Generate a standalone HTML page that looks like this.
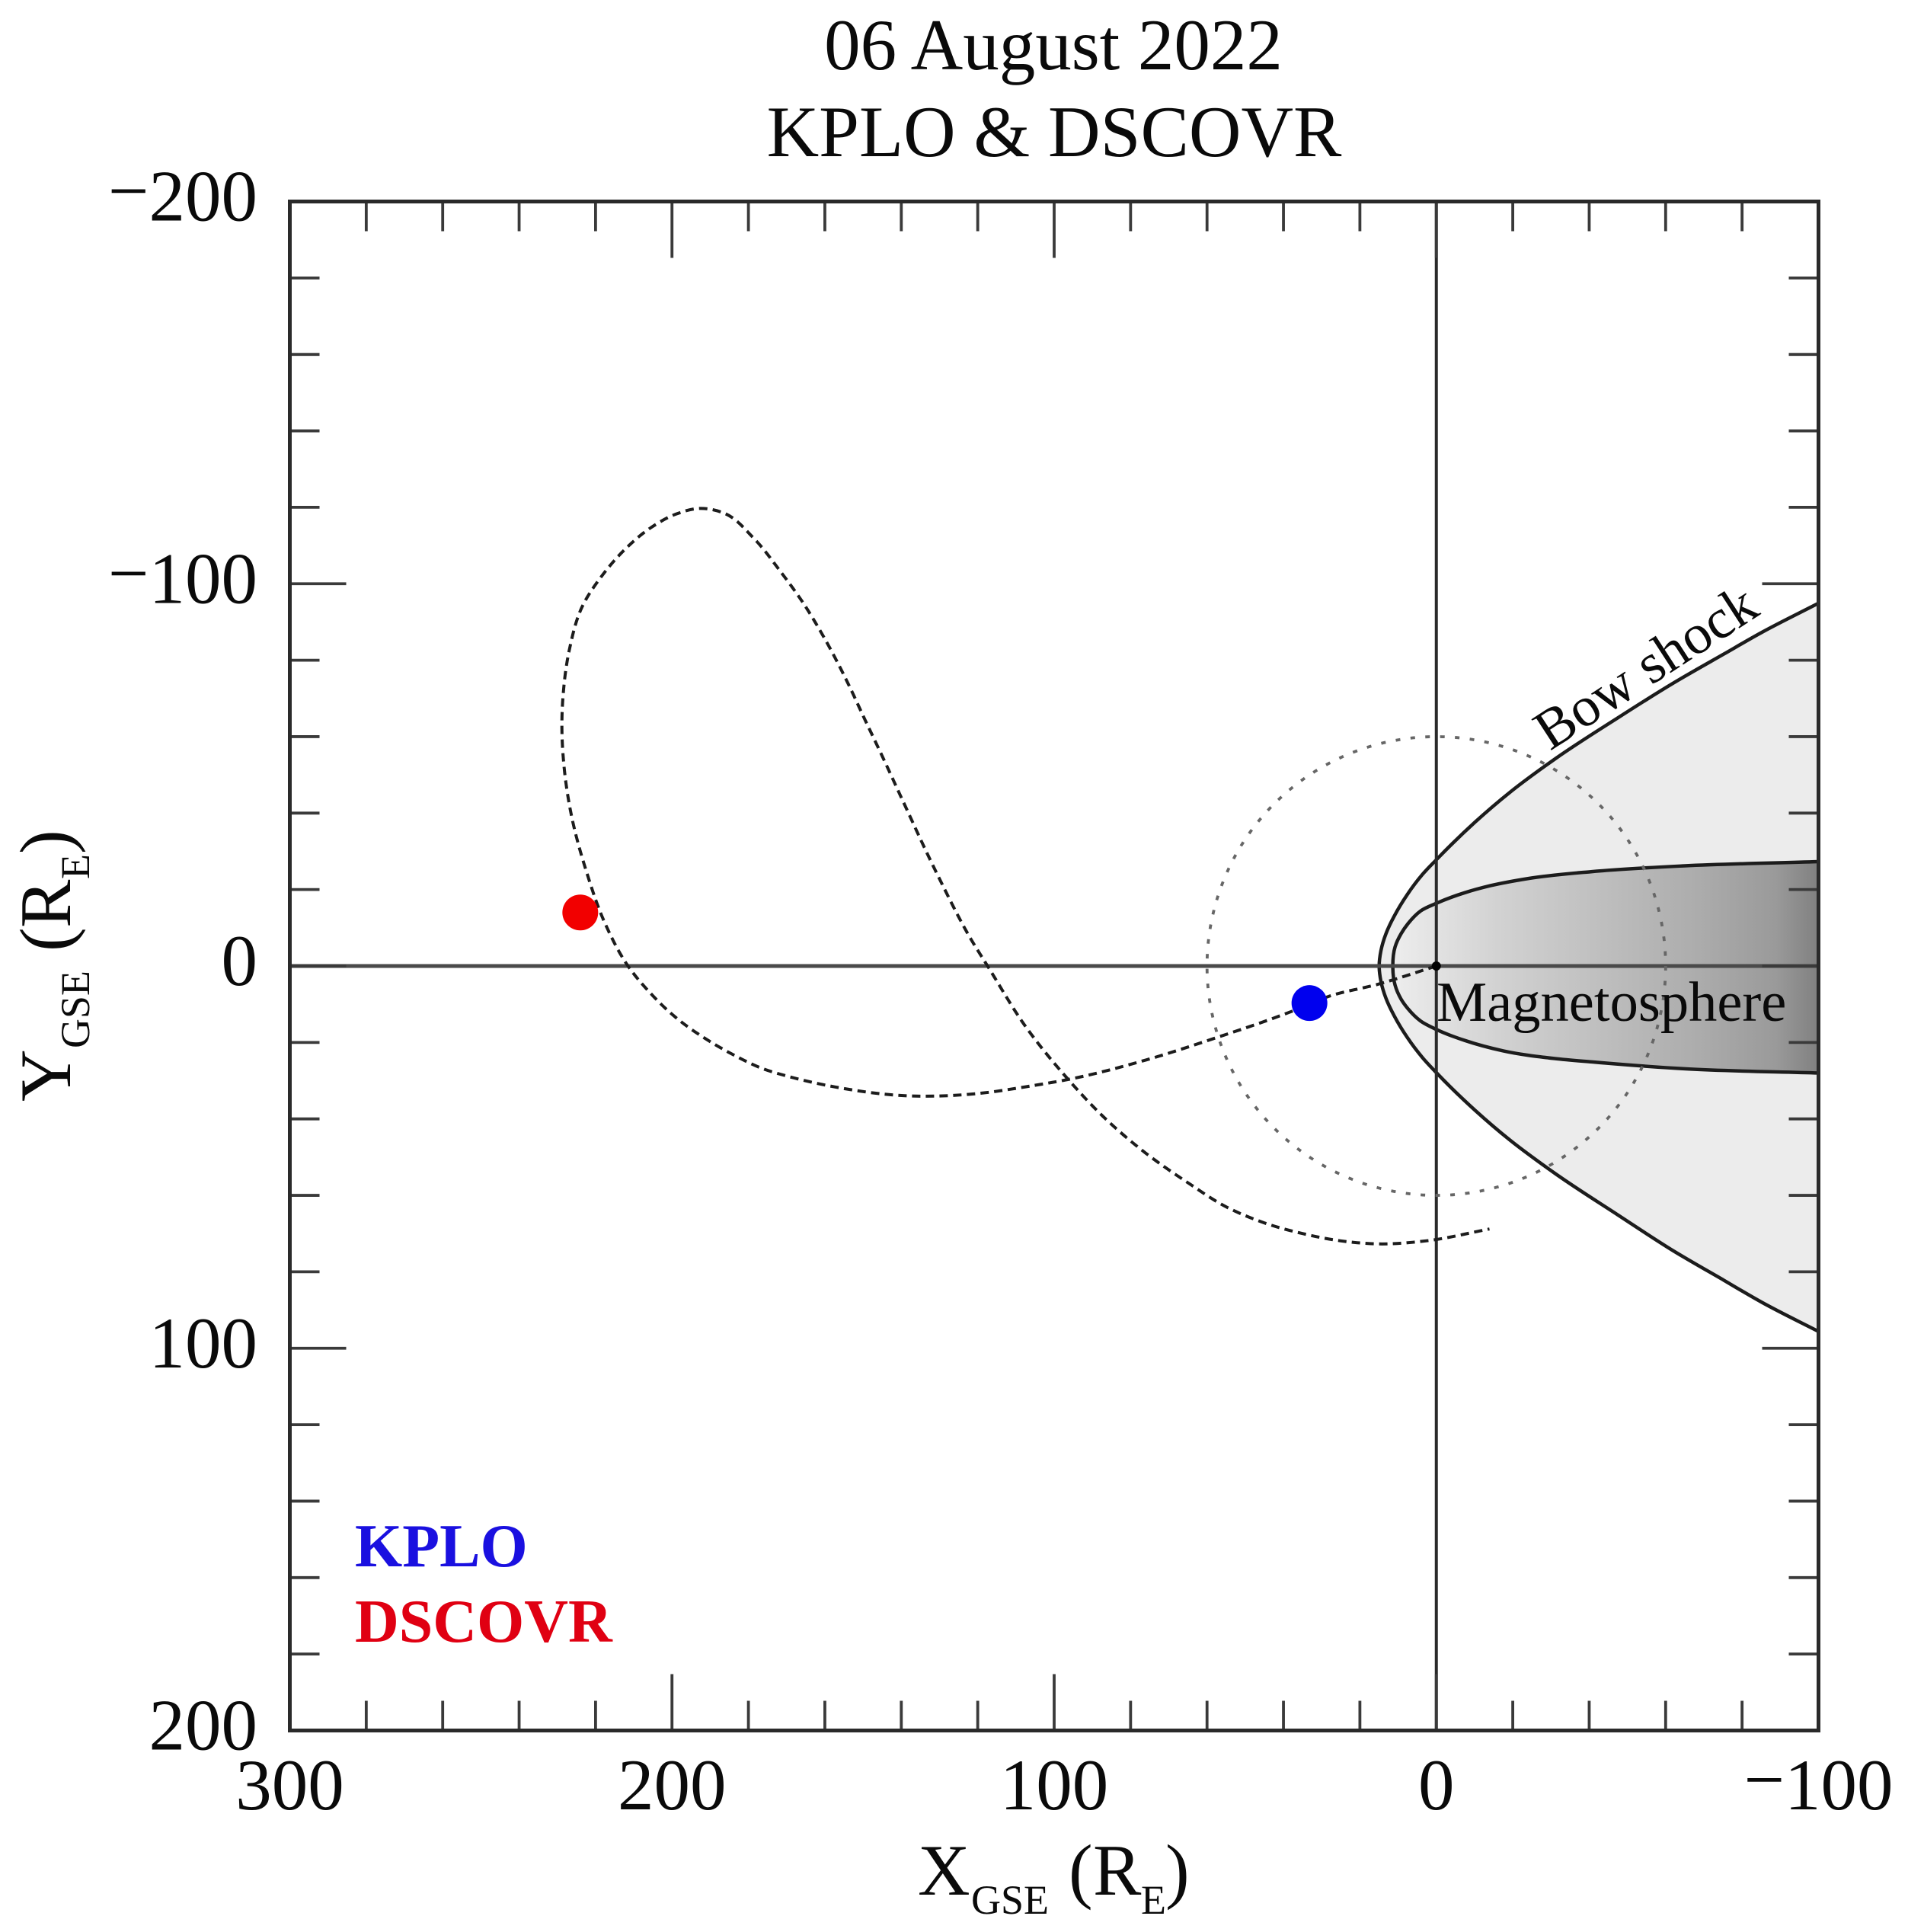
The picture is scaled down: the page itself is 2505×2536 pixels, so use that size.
<!DOCTYPE html>
<html lang="en">
<head>
<meta charset="utf-8">
<title>06 August 2022 KPLO &amp; DSCOVR</title>
<style>
html,body{margin:0;padding:0;background:#fff;}
svg{display:block;font-family:"Liberation Serif",serif;fill:#0a0a0a;}
</style>
</head>
<body>
<svg id="chart" xmlns="http://www.w3.org/2000/svg" width="2505" height="2536" viewBox="0 0 2505 2536">
  <defs>
    <linearGradient id="magnetoGradient" gradientUnits="userSpaceOnUse" x1="1826" y1="0" x2="2387" y2="0">
      <stop offset="0" stop-color="#eeeeee"/>
      <stop offset="0.107" stop-color="#e2e2e2"/>
      <stop offset="0.25" stop-color="#d2d2d2"/>
      <stop offset="0.45" stop-color="#c2c2c2"/>
      <stop offset="0.72" stop-color="#acacac"/>
      <stop offset="0.9" stop-color="#9a9a9a"/>
      <stop offset="1" stop-color="#808080"/>
    </linearGradient>
  </defs>
  <g id="regions"></g>
  <g id="guides"></g>
  <g id="ticks"></g>
  <g id="marks"></g>
  <rect x="380.5" y="264.5" width="2007" height="2007" fill="none" stroke="#2a2a2a" stroke-width="5"/>
  <g id="labels" font-size="95"></g>

  <text x="1383" y="91" font-size="95" text-anchor="middle">06 August 2022</text>
  <text x="1384" y="205" font-size="95" text-anchor="middle">KPLO &amp; DSCOVR</text>

  <text font-size="95"><tspan x="1205" y="2487">X</tspan><tspan x="1275" y="2512" font-size="54">GSE</tspan><tspan x="1403" y="2487">(</tspan><tspan x="1435" y="2487">R</tspan><tspan x="1498" y="2512" font-size="54">E</tspan><tspan x="1530" y="2487">)</tspan></text>
  <text font-size="95" transform="translate(92,0) rotate(-90)"><tspan x="-1446" y="0">Y</tspan><tspan x="-1376" y="25" font-size="54">GSE</tspan><tspan x="-1249" y="0">(</tspan><tspan x="-1218" y="0">R</tspan><tspan x="-1154" y="25" font-size="54">E</tspan><tspan x="-1121" y="0">)</tspan></text>

  <text font-size="74" transform="translate(2035,986) rotate(-33)">Bow shock</text>
  <text x="1886" y="1340" font-size="74.5">Magnetosphere</text>

  <text x="466" y="2056" font-size="80" font-weight="bold" style="fill:#1a10e0">KPLO</text>
  <text x="466" y="2155" font-size="80" font-weight="bold" style="fill:#e00012">DSCOVR</text>
</svg>

<script>
// Axis domains
var xDomain = [300, -100];
var yDomain = [-200, 200];

// Ticks
var xMajorTicks = [300, 200, 100, 0, -100];
var xTickLabels = ['300', '200', '100', '0', '−100'];
var xMinorTicks = [280, 260, 240, 220, 180, 160, 140, 120, 80, 60, 40, 20, -20, -40, -60, -80];
var yMajorTicks = [-200, -100, 0, 100, 200];
var yTickLabels = ['−200', '−100', '0', '100', '200'];
var yMinorTicks = [-180, -160, -140, -120, -80, -60, -40, -20, 20, 40, 60, 80, 120, 140, 160, 180];

// Bow shock boundary (RE)
var bowX = [-100, -85.2, -75.2, -62, -47.3, -31.4, -19.2, -10.2, 0, 3.6, 7.6, 11, 13.2, 14.5, 14.95, 14.5, 13.2, 11, 7.6, 3.6, 0, -10.2, -19.2, -31.4, -47.3, -62, -75.2, -85.2, -100];
var bowY = [-94.9, -87.3, -81.6, -74, -64.8, -54.4, -45.4, -37.7, -27.8, -24, -18.7, -13.1, -8.4, -4, 0, 4, 8.4, 13.1, 18.7, 24, 27.9, 37.8, 45.5, 54.5, 65, 74.5, 82.2, 88, 95.6];

// Magnetopause boundary (RE)
var magnetoX = [-100, -65, -40.7, -24.1, -14.1, -7.5, 0, 4.1, 7.4, 9.2, 10.8, 11.4, 10.8, 9.2, 7.4, 4.1, 0, -7.5, -17.5, -30.8, -40.7, -65.3, -100];
var magnetoY = [-27.3, -26.2, -24.7, -22.9, -21, -19.2, -16.4, -14.4, -11.1, -8.5, -5, 0, 5, 8.7, 11.2, 14.4, 16.6, 19.5, 22.2, 24.2, 25.1, 26.9, 28];

// Spacecraft trajectory (RE)
var trajectoryX = [0, 15, 28.3, 37.4, 58.3, 76, 95.9, 107.5, 116.75, 139.5, 157.3, 168, 176.9, 184, 191.1, 199.1, 205, 211.5, 217.8, 222.3, 226.3, 228.1, 228.8, 228.4, 226.8, 223.5, 218, 212, 205.5, 199, 192.9, 186, 178.7, 171.6, 165.5, 159.8, 154.7, 149.3, 144, 139.5, 130.6, 121.7, 117.3, 107.5, 96.4, 86.2, 76.1, 65, 55, 45, 35, 25, 15, 1.85, -13.9];
var trajectoryY = [0, 4.7, 8, 11.7, 19, 24.6, 29.6, 31.6, 33, 33.9, 31.65, 29.3, 26.6, 23.2, 19.1, 13.4, 7.8, 0, -11.8, -24.4, -39.3, -50.7, -62.2, -72, -83, -94, -102.5, -109.3, -114.7, -118.2, -119.7, -118.3, -112, -103.2, -94.7, -85.2, -75.5, -64, -52.8, -43, -24, -6.9, 0.2, 15.8, 29.6, 40.3, 48.9, 56.7, 63, 67.2, 70, 71.9, 72.7, 71.8, 68.8];

// Moon orbit circle (RE)
var moonOrbitRadius = [60];

// Spacecraft positions (RE)
var kploPosition = [33.2, 9.7];
var dscovrPosition = [224, -14];
var earthPosition = [0, 0];

var NS = 'http://www.w3.org/2000/svg';
var plotLeft = 380.5, plotRight = 2387.5, plotTop = 264.5, plotBottom = 2271.5;

function sx(v) { return plotLeft + (v - xDomain[0]) / (xDomain[1] - xDomain[0]) * (plotRight - plotLeft); }
function sy(v) { return plotTop + (v - yDomain[0]) / (yDomain[1] - yDomain[0]) * (plotBottom - plotTop); }

function make(tag, attrs, parentId) {
  var el = document.createElementNS(NS, tag);
  for (var k in attrs) { el.setAttribute(k, attrs[k]); }
  document.getElementById(parentId).appendChild(el);
  return el;
}

function dist(a, b) { return Math.sqrt((a[0] - b[0]) * (a[0] - b[0]) + (a[1] - b[1]) * (a[1] - b[1])) || 1; }

// Non-uniform Catmull-Rom: finite-difference tangents weighted by chord length.
function smoothPath(xs, ys, close) {
  var p = xs.map(function (x, i) { return [sx(x), sy(ys[i])]; });
  var n = p.length;
  var tan = p.map(function (b, i) {
    var a = p[Math.max(i - 1, 0)], c = p[Math.min(i + 1, n - 1)];
    var d1 = dist(a, b), d2 = dist(b, c);
    var tx = (d2 * (b[0] - a[0]) / d1 + d1 * (c[0] - b[0]) / d2) / (d1 + d2);
    var ty = (d2 * (b[1] - a[1]) / d1 + d1 * (c[1] - b[1]) / d2) / (d1 + d2);
    var l = Math.sqrt(tx * tx + ty * ty) || 1;
    return [tx / l, ty / l];
  });
  var d = 'M' + p[0][0].toFixed(1) + ' ' + p[0][1].toFixed(1);
  for (var i = 0; i < n - 1; i++) {
    var b = p[i], c = p[i + 1], s = dist(b, c) / 3;
    d += 'C' + (b[0] + tan[i][0] * s).toFixed(1) + ' ' + (b[1] + tan[i][1] * s).toFixed(1) + ' ' +
      (c[0] - tan[i + 1][0] * s).toFixed(1) + ' ' + (c[1] - tan[i + 1][1] * s).toFixed(1) + ' ' +
      c[0].toFixed(1) + ' ' + c[1].toFixed(1);
  }
  return d + (close ? 'Z' : '');
}

// Regions
var bowFill = make('path', { d: smoothPath(bowX, bowY, true), fill: '#ececec', stroke: 'none' }, 'regions');



var magnetoFill = make('path', { d: smoothPath(magnetoX, magnetoY, true), fill: 'url(#magnetoGradient)', stroke: 'none' }, 'regions');



var bowLine = make('path', { d: smoothPath(bowX, bowY, false), fill: 'none', stroke: '#1c1c1c', 'stroke-width': 4.5 }, 'regions');



var magnetoLine = make('path', { d: smoothPath(magnetoX, magnetoY, false), fill: 'none', stroke: '#1c1c1c', 'stroke-width': 4.5 }, 'regions');



// Zero lines
var zeroH = make('line', { x1: plotLeft, x2: plotRight, y1: sy(0), y2: sy(0), stroke: '#4a4a4a', 'stroke-width': 5 }, 'guides');



var zeroV = make('line', { x1: sx(0), x2: sx(0), y1: plotTop, y2: plotBottom, stroke: '#2a2a2a', 'stroke-width': 4 }, 'guides');



// Ticks
function xTick(v, len) {
  var top = make('line', { x1: sx(v), x2: sx(v), y1: plotTop, y2: plotTop + len, stroke: '#3a3a3a', 'stroke-width': 3.8 }, 'ticks');
  
  
  var bottom = make('line', { x1: sx(v), x2: sx(v), y1: plotBottom, y2: plotBottom - len, stroke: '#3a3a3a', 'stroke-width': 3.8 }, 'ticks');
  
  
}
function yTick(v, len) {
  var left = make('line', { x1: plotLeft, x2: plotLeft + len, y1: sy(v), y2: sy(v), stroke: '#3a3a3a', 'stroke-width': 3.8 }, 'ticks');
  
  
  var right = make('line', { x1: plotRight, x2: plotRight - len, y1: sy(v), y2: sy(v), stroke: '#3a3a3a', 'stroke-width': 3.8 }, 'ticks');
  
  
}
xMajorTicks.forEach(function (v) { xTick(v, 74); });
xMinorTicks.forEach(function (v) { xTick(v, 39); });
yMajorTicks.forEach(function (v) { yTick(v, 74); });
yMinorTicks.forEach(function (v) { yTick(v, 39); });

// Tick labels (the minus sign sits slightly above the digit centre line)
function fillLabel(el, label) {
  if (label.charAt(0) === '−') {
    var m = document.createElementNS(NS, 'tspan');
    m.setAttribute('dy', '-7');
    m.textContent = '−';
    el.appendChild(m);
    var n = document.createElementNS(NS, 'tspan');
    n.setAttribute('dy', '7');
    n.textContent = label.slice(1);
    el.appendChild(n);
  } else {
    el.textContent = label;
  }
}
xMajorTicks.forEach(function (v, i) {
  var t = make('text', { x: sx(v), y: 2375, 'text-anchor': 'middle' }, 'labels');
  
  
  fillLabel(t, xTickLabels[i]);
});
yMajorTicks.forEach(function (v, i) {
  var t = make('text', { x: 338, y: sy(v) + 25, 'text-anchor': 'end' }, 'labels');
  
  
  fillLabel(t, yTickLabels[i]);
});

// Moon orbit
var orbitPxRadius = Math.abs(sx(moonOrbitRadius[0]) - sx(0));
var orbit = make('circle', { cx: sx(0), cy: sy(0), r: orbitPxRadius, fill: 'none', stroke: '#666', 'stroke-width': 3.8, 'stroke-dasharray': '6 13.5' }, 'marks');



// Trajectory
var traj = make('path', { d: smoothPath(trajectoryX, trajectoryY, false), fill: 'none', stroke: '#1c1c1c', 'stroke-width': 4, 'stroke-dasharray': '11 7' }, 'marks');



// Earth and spacecraft
var earth = make('circle', { cx: sx(earthPosition[0]), cy: sy(earthPosition[1]), r: 6, fill: '#000' }, 'marks');



var kplo = make('circle', { cx: sx(kploPosition[0]), cy: sy(kploPosition[1]), r: 23.5, fill: '#0000ee' }, 'marks');



var dscovr = make('circle', { cx: sx(dscovrPosition[0]), cy: sy(dscovrPosition[1]), r: 23.5, fill: '#f20000' }, 'marks');


</script>
</body>
</html>
